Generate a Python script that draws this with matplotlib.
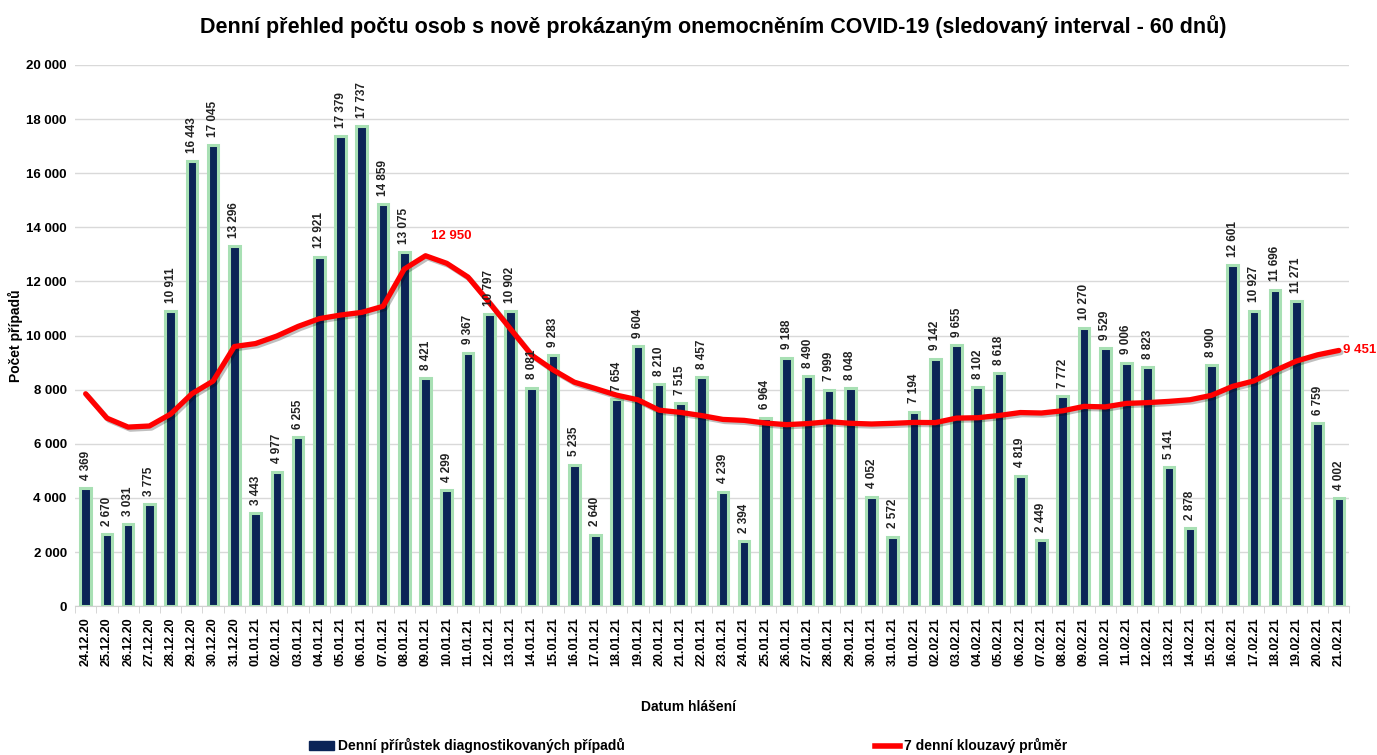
import matplotlib.pyplot as plt
import matplotlib.patheffects as pe
from matplotlib.lines import Line2D
from matplotlib.patches import Patch
import numpy as np

plt.rcParams['font.family'] = ['Liberation Sans', 'DejaVu Sans']

dates = [
    "24.12.20", "25.12.20", "26.12.20", "27.12.20", "28.12.20", "29.12.20", "30.12.20", "31.12.20",
    "01.01.21", "02.01.21", "03.01.21", "04.01.21", "05.01.21", "06.01.21", "07.01.21", "08.01.21",
    "09.01.21", "10.01.21", "11.01.21", "12.01.21", "13.01.21", "14.01.21", "15.01.21", "16.01.21",
    "17.01.21", "18.01.21", "19.01.21", "20.01.21", "21.01.21", "22.01.21", "23.01.21", "24.01.21",
    "25.01.21", "26.01.21", "27.01.21", "28.01.21", "29.01.21", "30.01.21", "31.01.21", "01.02.21",
    "02.02.21", "03.02.21", "04.02.21", "05.02.21", "06.02.21", "07.02.21", "08.02.21", "09.02.21",
    "10.02.21", "11.02.21", "12.02.21", "13.02.21", "14.02.21", "15.02.21", "16.02.21", "17.02.21",
    "18.02.21", "19.02.21", "20.02.21", "21.02.21",
]

daily_cases = [
    4369, 2670, 3031, 3775, 10911, 16443, 17045, 13296,
    3443, 4977, 6255, 12921, 17379, 17737, 14859, 13075,
    8421, 4299, 9367, 10797, 10902, 8081, 9283, 5235,
    2640, 7654, 9604, 8210, 7515, 8457, 4239, 2394,
    6964, 9188, 8490, 7999, 8048, 4052, 2572, 7194,
    9142, 9655, 8102, 8618, 4819, 2449, 7772, 10270,
    9529, 9006, 8823, 5141, 2878, 8900, 12601, 10927,
    11696, 11271, 6759, 4002,
]

# 7 day moving average
moving_avg = [
    7850, 6950, 6620, 6660, 7100, 7850, 8321, 9596,
    9706, 9984, 10339, 10626, 10759, 10858, 11082, 12458,
    12950, 12670, 12162, 11222, 10246, 9277, 8736, 8281,
    8044, 7799, 7628, 7244, 7163, 7045, 6903, 6868,
    6769, 6710, 6750, 6819, 6760, 6734, 6759, 6792,
    6785, 6952, 6966, 7048, 7157, 7140, 7222, 7384,
    7366, 7495, 7524, 7570, 7631, 7792, 8125, 8325,
    8709, 9059, 9290, 9451,
]


def fmt(v):
    return f"{v:,}".replace(",", " ")


fig = plt.figure(figsize=(13.77, 7.55), dpi=100)
ax = fig.add_axes([0.0545, 0.197, 0.9255, 0.717])

x = np.arange(len(dates))
ax.bar(x, daily_cases, width=0.5, color="#0b2457", edgecolor="#a8e0b4",
       linewidth=2.2, zorder=2)

for xi, v in zip(x, daily_cases):
    ax.annotate(fmt(v), (xi, v), xytext=(0, 6), textcoords="offset points",
                rotation=90, ha="center", va="bottom", fontsize=8.5,
                fontweight="bold", color="#222222", zorder=4)

ax.plot(x, moving_avg, color="#ff0000", linewidth=3.8, zorder=3,
        solid_capstyle="round",
        path_effects=[pe.SimpleLineShadow(offset=(1.5, -1.5), alpha=0.25),
                      pe.Normal()])

peak = int(np.argmax(moving_avg))
ax.annotate(fmt(moving_avg[peak]), (peak, moving_avg[peak]), xytext=(4, 10),
            textcoords="offset points", ha="left", va="bottom", fontsize=9.5,
            fontweight="bold", color="#ff0000")
ax.annotate(fmt(moving_avg[-1]), (x[-1], moving_avg[-1]), xytext=(3, 0),
            textcoords="offset points", ha="left", va="center", fontsize=9.5,
            fontweight="bold", color="#ff0000", annotation_clip=False)

ax.set_xlim(-0.5, len(dates) - 0.5)
ax.set_ylim(0, 20000)
ax.set_yticks(np.arange(0, 20001, 2000))
ax.set_yticklabels([fmt(v) for v in range(0, 20001, 2000)], fontsize=9.5,
                   fontweight="bold")
ax.set_xticks(x)
ax.set_xticklabels(dates, rotation=90, fontsize=9, fontweight="bold")
ax.tick_params(axis="x", length=0, pad=8)
ax.tick_params(axis="y", length=0, pad=6)
ax.set_xticks(np.arange(-0.5, len(dates), 1), minor=True)
ax.tick_params(axis="x", which="minor", length=5, color="#d0d0d0")

ax.grid(axis="y", color="#d9d9d9", linewidth=1, zorder=0)
ax.set_axisbelow(True)
for s in ["top", "right", "left"]:
    ax.spines[s].set_visible(False)
ax.spines["bottom"].set_color("#d0d0d0")

ax.set_ylabel("Počet případů", fontsize=10, fontweight="bold", labelpad=2)
fig.text(0.5, 0.063, "Datum hlášení", ha="center", va="center",
         fontsize=10, fontweight="bold")

fig.suptitle("Denní přehled počtu osob s nově prokázaným onemocněním COVID-19 "
             "(sledovaný interval - 60 dnů)", x=0.518, y=0.98, fontsize=15.5,
             fontweight="bold")

handles = [Patch(facecolor="#0b2457", edgecolor="#0b2457"),
           Line2D([0], [0], color="#ff0000", linewidth=4)]
labels = ["Denní přírůstek diagnostikovaných případů", "7 denní klouzavý průměr"]
fig.legend(handles, labels, loc="center", bbox_to_anchor=(0.5, 0.012),
           ncol=2, frameon=False, columnspacing=18,
           handlelength=1.8, handletextpad=0.3,
           prop={"weight": "bold", "size": 10})

fig.savefig("out.png", dpi=100)
